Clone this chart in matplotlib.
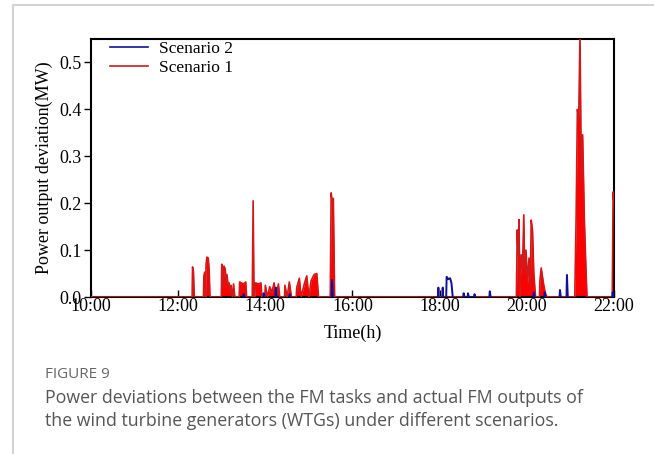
import numpy as np
import matplotlib
matplotlib.use("Agg")
import matplotlib.pyplot as plt
from matplotlib.lines import Line2D

nan = np.nan

# Scenario 1: power output deviation (MW) against time of day (hours)
s1_time = [10.00,
           12.32, 12.33, 12.35, 12.37,
           12.58, 12.59, 12.61, 12.63, 12.64, 12.66, 12.69, 12.71, 12.73,
           12.99, 13.00, 13.03, 13.05, 13.08, 13.10, 13.12, 13.15, 13.17, 13.19,
           13.21, 13.24, 13.27, 13.30,
           13.40, 13.41, 13.45, 13.50, 13.55, 13.57,
           13.70, 13.72, 13.74,
           13.76, 13.77, 13.85, 13.90, 13.92,
           13.99, 14.00, 14.05, 14.10, 14.15, 14.20, 14.25, 14.30, 14.33,
           14.44, 14.45, 14.50, 14.55, 14.60,
           14.71, 14.72, 14.78, 14.82, 14.90, 14.95, 15.00, 15.05, 15.12, 15.18, 15.22,
           15.49, 15.51, 15.54, 15.56, 15.59,
           19.76, 19.78, 19.80, 19.82, 19.84, 19.87, 19.90, 19.93, 19.95, 19.98,
           20.02, 20.05, 20.08, 20.10, 20.13, 20.16, 20.20,
           20.29, 20.30, 20.33, 20.38, 20.42, 20.46,
           21.10, 21.13, 21.16, 21.19, 21.22, 21.25, 21.28, 21.32, 21.36, 21.38,
           21.96, 21.98, 22.00]
s1_dev = [0.0,
          0.0, 0.064, 0.055, 0.0,
          0.0, 0.045, 0.053, 0.0, 0.070, 0.085, 0.083, 0.060, 0.0,
          0.0, 0.070, 0.020, 0.066, 0.060, 0.030, 0.048, 0.020, 0.030, 0.010,
          0.025, 0.0, 0.028, 0.0,
          0.0, 0.032, 0.030, 0.028, 0.032, 0.0,
          0.0, 0.205, 0.0,
          0.0, 0.030, 0.028, 0.030, 0.0,
          0.0, 0.025, 0.0, 0.022, 0.010, 0.030, 0.0, 0.028, 0.0,
          0.0, 0.025, 0.0, 0.032, 0.0,
          0.0, 0.020, 0.040, 0.0, 0.030, 0.045, 0.0, 0.035, 0.048, 0.050, 0.0,
          0.0, 0.222, 0.200, 0.210, 0.0,
          0.0, 0.143, 0.090, 0.165, 0.0, 0.090, 0.060, 0.175, 0.050, 0.100,
          0.030, 0.083, 0.020, 0.164, 0.143, 0.050, 0.0,
          0.0, 0.035, 0.062, 0.030, 0.010, 0.0,
          0.0, 0.165, 0.400, 0.380, 0.560, 0.250, 0.346, 0.165, 0.050, 0.0,
          0.0, 0.224, 0.200]

# Scenario 2: power output deviation (MW); gaps where no deviation is recorded
s2_time = [13.49, 13.50, 13.52, nan,
           13.95, 13.96, 13.98, nan,
           14.23, 14.24, 14.26, nan,
           14.55, 14.56, 14.58, nan,
           15.52, 15.53, 15.55, nan,
           17.96, 17.97, 17.98, nan,
           18.06, 18.07, 18.08, nan,
           18.15, 18.16, 18.20, 18.24, 18.27, 18.30, nan,
           18.54, 18.55, 18.57, 18.64, 18.65, 18.67, 18.79, 18.80, 18.82, nan,
           19.14, 19.15, 19.17, nan,
           20.15, 20.16, 20.18, nan,
           20.40, 20.41, 20.43, nan,
           20.75, 20.76, 20.78, nan,
           20.91, 20.92, 20.94, nan,
           21.96, 21.97, 21.99]
s2_dev = [0.0, 0.006, 0.0, nan,
          0.0, 0.008, 0.0, nan,
          0.0, 0.020, 0.0, nan,
          0.0, 0.006, 0.0, nan,
          0.0, 0.036, 0.0, nan,
          0.0, 0.020, 0.0, nan,
          0.0, 0.020, 0.0, nan,
          0.0, 0.043, 0.038, 0.040, 0.030, 0.0, nan,
          0.0, 0.008, 0.0, 0.0, 0.008, 0.0, 0.0, 0.006, 0.0, nan,
          0.0, 0.012, 0.0, nan,
          0.0, 0.010, 0.0, nan,
          0.0, 0.010, 0.0, nan,
          0.0, 0.015, 0.0, nan,
          0.0, 0.047, 0.0, nan,
          0.0, 0.010, 0.0]

x_ticks = [10, 12, 14, 16, 18, 20, 22]
x_tick_labels = ["10:00", "12:00", "14:00", "16:00", "18:00", "20:00", "22:00"]
y_ticks = [0.0, 0.1, 0.2, 0.3, 0.4, 0.5]
y_tick_labels = ["0.0", "0.1", "0.2", "0.3", "0.4", "0.5"]

series_labels = ["Scenario 2", "Scenario 1"]
caption_head = "FIGURE 9"
caption_lines = ["Power deviations between the FM tasks and actual FM outputs of",
                 "the wind turbine generators (WTGs) under different scenarios."]

W, H = 654, 454
fig = plt.figure(figsize=(W / 100, H / 100), dpi=100)
fig.patch.set_facecolor("white")

serif = ["Liberation Serif", "DejaVu Serif"]

ax = fig.add_axes([91 / W, 1 - 297 / H, (614 - 91) / W, (297 - 39) / H])

red_fill = "#ff0000"
red_edge = "#d41818"
blue = "#10109a"

ax.fill_between(s1_time, s1_dev, 0, color=red_fill, lw=0, zorder=2)
l1, = ax.plot(s1_time, s1_dev, color=red_edge, lw=1.2, zorder=3)
l2, = ax.plot(s2_time, s2_dev, color=blue, lw=1.4, zorder=4)

ax.set_xlim(10, 22)
ax.set_ylim(0, 0.55)
ax.set_xticks(x_ticks)
ax.set_xticklabels(x_tick_labels, fontfamily=serif, fontsize=13)
ax.set_yticks(y_ticks)
ax.set_yticklabels(y_tick_labels, fontfamily=serif, fontsize=13)
ax.tick_params(axis="x", direction="in", length=5, width=1, pad=1)
ax.tick_params(axis="y", direction="out", length=5, width=1, pad=2)
for sp in ax.spines.values():
    sp.set_linewidth(1.5)
    sp.set_color("black")

ax.set_xlabel("Time(h)", fontfamily=serif, fontsize=13, labelpad=7)
ax.set_ylabel("Power output deviation(MW)", fontfamily=serif, fontsize=13, labelpad=4)

leg = ax.legend([l2, l1], series_labels, loc="upper left", frameon=False,
                prop={"family": serif, "size": 12.5}, handlelength=2.2,
                handletextpad=0.6, labelspacing=0.15, borderaxespad=0.0,
                borderpad=0.0,
                bbox_to_anchor=(110 / W, 1 - 41 / H),
                bbox_transform=fig.transFigure)
for h in leg.get_lines():
    h.set_linewidth(1.2)

# card border
border = "#d3d3d3"
fig.add_artist(Line2D([13 / W, 13 / W], [0, 1 - 5 / H], color=border, lw=1.5,
                      transform=fig.transFigure))
fig.add_artist(Line2D([13 / W, 1], [1 - 5 / H, 1 - 5 / H], color=border, lw=1.5,
                      transform=fig.transFigure))

sans = ["Open Sans", "DejaVu Sans"]
fig.text(45 / W, 1 - 375 / H, caption_head, fontfamily=sans, fontsize=11,
         color="#666666", va="center", ha="left")
fig.text(45 / W, 1 - 398 / H, caption_lines[0], fontfamily=sans, fontsize=12.8,
         color="#555555", va="center", ha="left")
fig.text(45 / W, 1 - 421 / H, caption_lines[1], fontfamily=sans, fontsize=12.8,
         color="#555555", va="center", ha="left")

fig.savefig("out.png", dpi=100, facecolor="white")
